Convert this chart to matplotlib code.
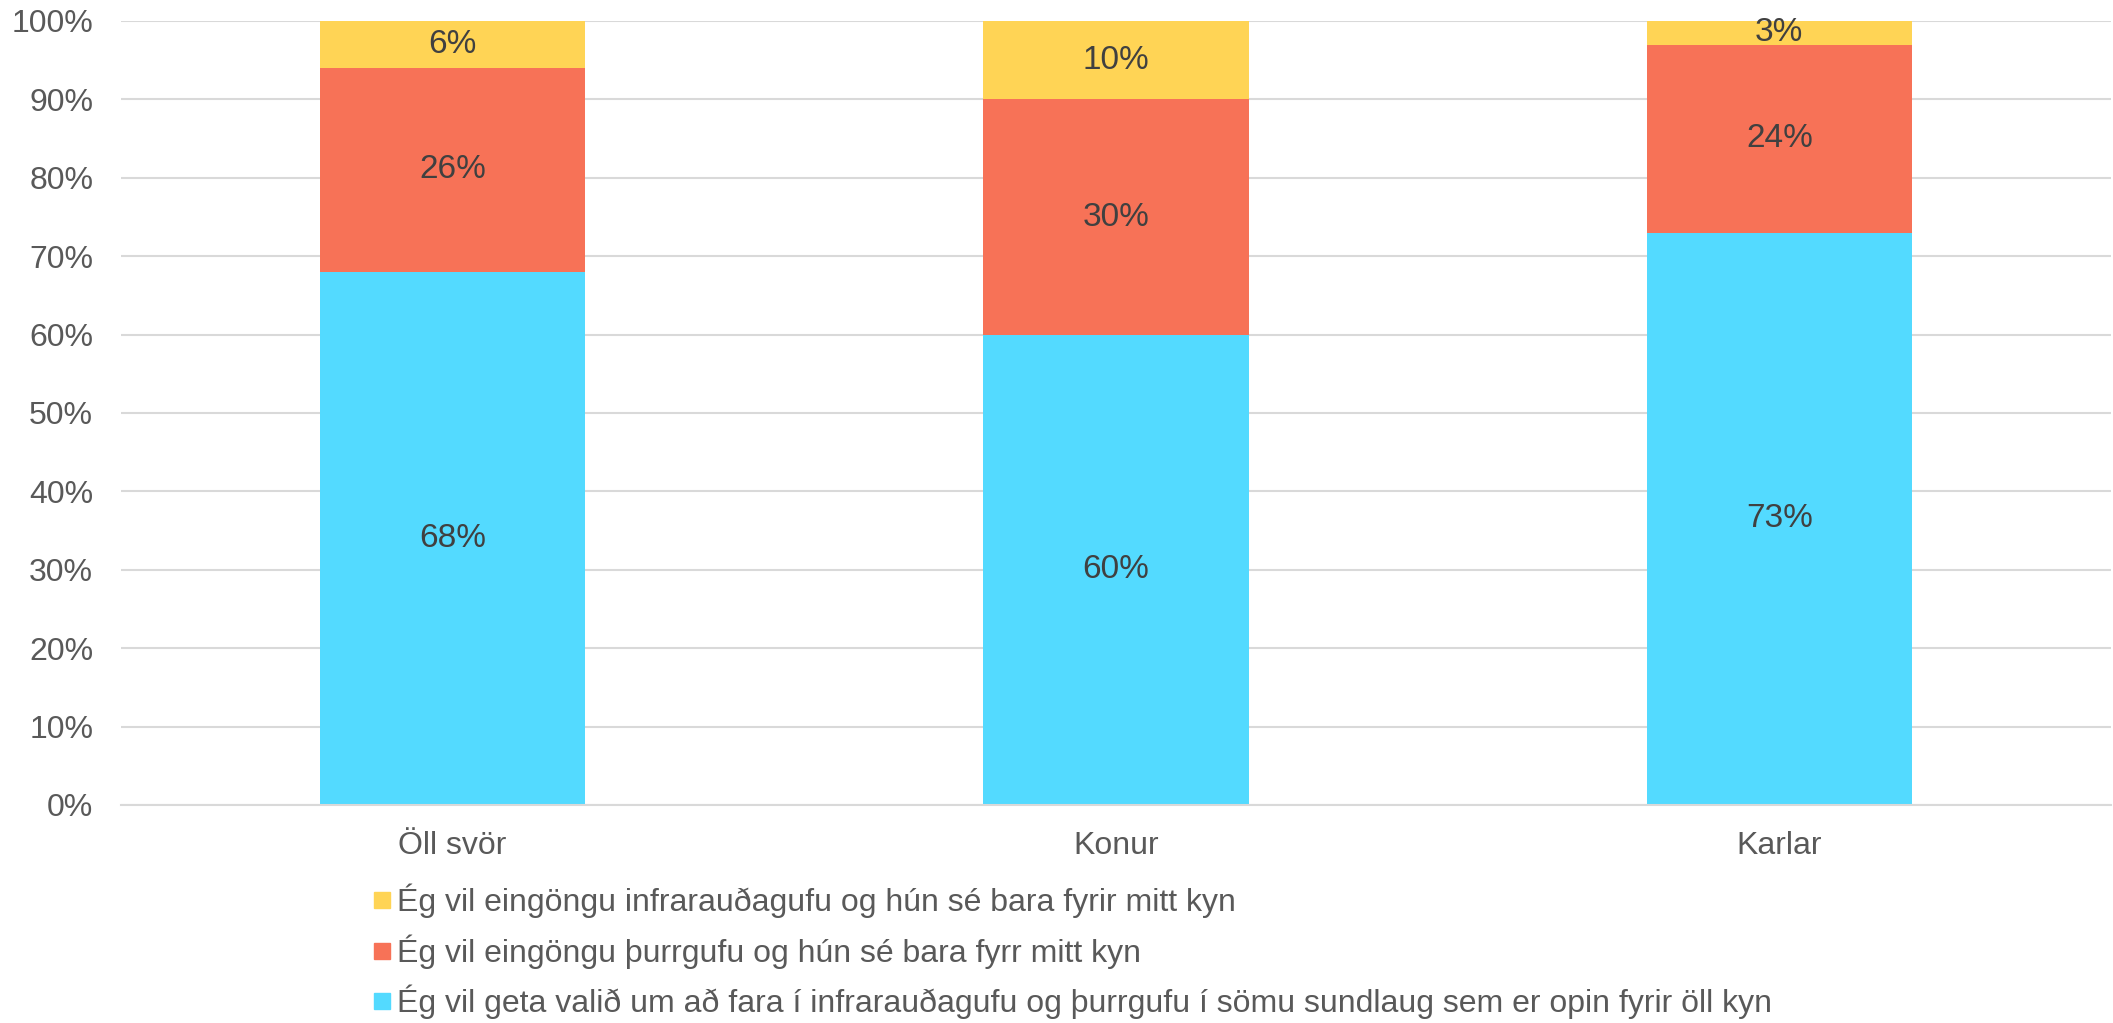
import matplotlib
matplotlib.use("Agg")
from matplotlib import pyplot as plt
from matplotlib.lines import Line2D

plt.rcParams['font.family'] = ['Liberation Sans', 'DejaVu Sans']

categories = ["Öll svör", "Konur", "Karlar"]
series_names = [
    "Ég vil geta valið um að fara í infrarauðagufu og þurrgufu í sömu sundlaug sem er opin fyrir öll kyn",
    "Ég vil eingöngu þurrgufu og hún sé bara fyrr mitt kyn",
    "Ég vil eingöngu infrarauðagufu og hún sé bara fyrir mitt kyn",
]
both = [68, 60, 73]
dry = [26, 30, 24]
infra = [6, 10, 3]
yticks = [0, 10, 20, 30, 40, 50, 60, 70, 80, 90, 100]

colors = ["#53DAFF", "#F77257", "#FFD455"]

fig = plt.figure(figsize=(21.13, 10.23), dpi=100)
ax = fig.add_axes([121 / 2113, 1 - 805 / 1023, (2111 - 121) / 2113, (805 - 21) / 1023])

x = range(len(categories))
bottom = [0, 0, 0]
for vals, col in zip([both, dry, infra], colors):
    ax.bar(x, vals, width=0.4, bottom=bottom, color=col, zorder=2)
    for i, v in enumerate(vals):
        ax.text(i, bottom[i] + v / 2, f"{v}%", ha='center', va='center',
                fontsize=24, color='#404040', zorder=3)
    bottom = [b + v for b, v in zip(bottom, vals)]

ax.set_xlim(-0.5, 2.5)
ax.set_ylim(0, 100)
ax.set_yticks(yticks)
ax.set_yticklabels([f"{t}%" for t in yticks])
ax.set_xticks(list(x))
ax.set_xticklabels(categories)
ax.yaxis.grid(True, color='#D9D9D9', linewidth=1.5, zorder=0)
ax.tick_params(axis='both', length=0, labelcolor='#595959')
ax.tick_params(axis='y', labelsize=23, pad=20)
ax.tick_params(axis='x', labelsize=23, pad=19)
for s in ['top', 'right', 'left']:
    ax.spines[s].set_visible(False)
ax.spines['bottom'].set_color('#D9D9D9')
ax.spines['bottom'].set_linewidth(1.5)

handles = [Line2D([], [], marker='s', linestyle='none', markersize=12.2,
                  markerfacecolor=c, markeredgecolor=c) for c in colors[::-1]]
leg = fig.legend(handles, series_names[::-1], loc='upper left',
                 bbox_to_anchor=(371 / 2113, 1 - 884 / 1023), frameon=False,
                 fontsize=23, handlelength=0.7, handletextpad=0.1,
                 labelspacing=0.5, borderpad=0, borderaxespad=0)
for t in leg.get_texts():
    t.set_color('#595959')

fig.savefig("out.png", dpi=100)
